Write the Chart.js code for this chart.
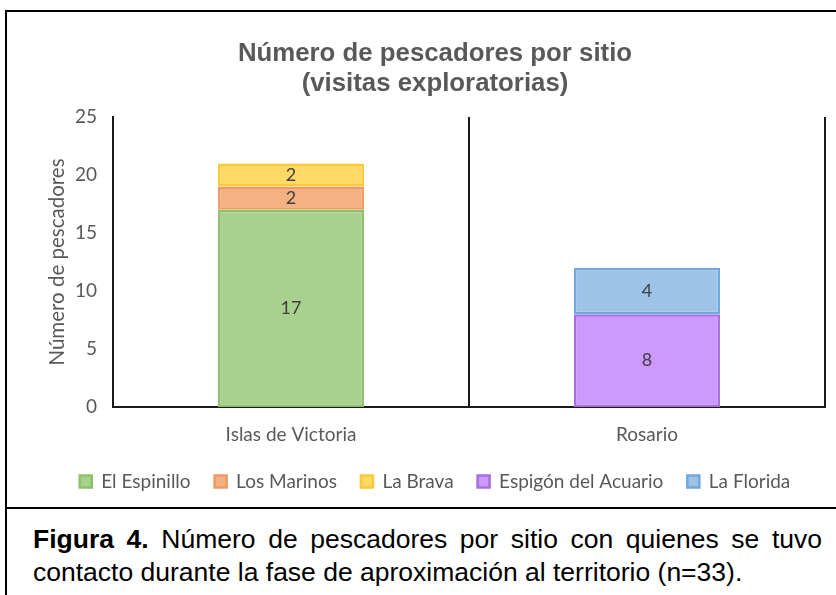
<!DOCTYPE html>
<html>
<head>
<meta charset="utf-8">
<script src="https://cdn.jsdelivr.net/npm/chart.js@4"></script>
<style>
  html, body { margin:0; padding:0; background:#fff; }
  body { width:836px; height:595px; overflow:hidden; position:relative; }
  #box { position:absolute; left:5px; top:10px; width:880px; height:640px; border:2px solid #000; box-sizing:border-box; }
  #sep { position:absolute; left:5px; top:507px; width:880px; height:2px; background:#000; }
  #wrap { position:absolute; left:7px; top:12px; width:856px; height:495px; }
  .cap { position:absolute; left:33px; width:789px; font-family:"Liberation Sans", Arial, sans-serif; font-size:26.5px; line-height:33px; color:#000; }
  #cap1 { top:523px; text-align:justify; text-align-last:justify; white-space:nowrap; }
  #cap2 { top:556px; text-align:left; white-space:nowrap; }
</style>
</head>
<body>
<div id="box"></div>
<div id="sep"></div>
<div id="wrap"><canvas id="c"></canvas></div>
<div class="cap" id="cap1"><b>Figura 4.</b> Número de pescadores por sitio con quienes se tuvo</div>
<div class="cap" id="cap2">contacto durante la fase de aproximación al territorio (n=33).</div>
<script>
const categories = ["Islas de Victoria", "Rosario"];
const elEspinillo = [17, null];
const losMarinos = [2, null];
const laBrava = [2, null];
const espigonAcuario = [null, 8];
const laFlorida = [null, 4];
const yTicks = [0, 5, 10, 15, 20, 25];
const titleLines = ["Número de pescadores por sitio", "(visitas exploratorias)"];
const yTitle = "Número de pescadores";

const labelFont = "Lato, 'Open Sans', sans-serif";

const dataLabels = {
  id: 'dataLabels',
  afterDatasetsDraw(chart) {
    const ctx = chart.ctx;
    ctx.save();
    ctx.font = "18px " + labelFont;
    ctx.fillStyle = "#404040";
    ctx.textAlign = "center";
    ctx.textBaseline = "middle";
    chart.data.datasets.forEach((ds, i) => {
      const meta = chart.getDatasetMeta(i);
      meta.data.forEach((el, j) => {
        const v = ds.data[j];
        if (v === null || v === undefined) return;
        const p = el.getProps(['x','y','base'], true);
        ctx.fillText(String(v), p.x, (p.y + p.base) / 2);
      });
    });
    ctx.restore();
  }
};

function ds(label, data, bg, border) {
  return { label, data, backgroundColor: bg, borderColor: border, borderWidth: 2.5,
           barPercentage: 0.41, categoryPercentage: 1.0, borderSkipped: false };
}

new Chart(document.getElementById('c'), {
  type: 'bar',
  data: {
    labels: categories,
    datasets: [
      ds("El Espinillo", elEspinillo, "#a9d18e", "#8cc06a"),
      ds("Los Marinos", losMarinos, "#f4b183", "#ef9a62"),
      ds("La Brava", laBrava, "#ffd966", "#ffc836"),
      ds("Espigón del Acuario", espigonAcuario, "#cc99ff", "#a86de0"),
      ds("La Florida", laFlorida, "#9dc3e6", "#70a8dc")
    ]
  },
  options: {
    responsive: true,
    maintainAspectRatio: false,
    animation: false,
    layout: { padding: { left: 0, right: 0, top: 0, bottom: 6 } },
    plugins: {
      title: {
        display: true,
        text: titleLines,
        color: "#595959",
        font: { family: "'Liberation Sans', Arial, sans-serif", size: 25.8, weight: 'bold', lineHeight: 1.163 },
        padding: { top: 27, bottom: 18 }
      },
      legend: {
        position: 'bottom',
        labels: {
          color: "#595959",
          font: { family: labelFont, size: 19 },
          boxWidth: 12, boxHeight: 12,
          padding: 24
        }
      },
      tooltip: { enabled: false }
    },
    scales: {
      x: {
        stacked: true,
        grid: { display: true, offset: true, color: "#1a1a1a", lineWidth: 2, drawTicks: false },
        border: { display: true, color: "#1a1a1a", width: 2 },
        ticks: { color: "#595959", font: { family: labelFont, size: 19 }, padding: 16 },
        afterFit(s) { s.height = 41; }
      },
      y: {
        stacked: true,
        min: 0, max: 25,
        afterBuildTicks(s) { s.ticks = yTicks.map(v => ({ value: v })); },
        grid: { display: false, drawTicks: false },
        border: { display: true, color: "#1a1a1a", width: 2 },
        ticks: { color: "#595959", font: { family: labelFont, size: 19 }, padding: 16 },
        title: { display: true, text: yTitle, color: "#595959", font: { family: labelFont, size: 20.5 }, padding: { top: 38 } },
        afterFit(s) { s.width = 106; }
      },
      ySpacer: {
        type: 'linear',
        position: 'right',
        display: true,
        grid: { display: false, drawTicks: false },
        border: { display: false },
        ticks: { display: false },
        afterFit(s) { s.width = 38; }
      }
    }
  },
  plugins: [dataLabels]
});
</script>
</body>
</html>
